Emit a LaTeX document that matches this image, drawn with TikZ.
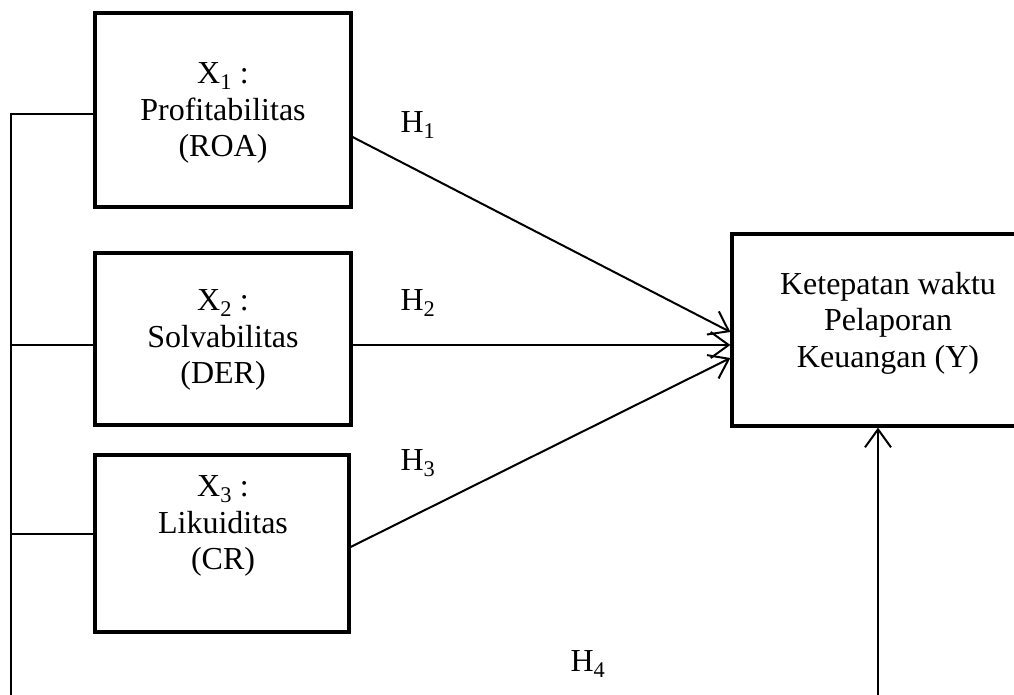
\documentclass[tikz,border=0pt]{standalone}
\usepackage{fontspec}
\setmainfont{Liberation Serif}
\usetikzlibrary{arrows.meta}
\begin{document}
\begin{tikzpicture}[x=1pt,y=-1pt,
  box/.style={draw, line width=3.2pt, inner sep=0pt},
  txt/.style={align=center, inner sep=0pt, font=\fontsize{32}{36.5}\selectfont},
  conn/.style={line width=2pt},
  arr/.style={line width=2pt, -{Straight Barb[length=18pt,width=26pt,line width=2pt]}}]
\useasboundingbox (0,0) rectangle (1014,694);
\clip (0,0) rectangle (1014,694);
% boxes
\node[box, minimum width=256pt, minimum height=194pt] (b1) at (223,110) {};
\node[box, minimum width=256pt, minimum height=172pt] (b2) at (223,339) {};
\node[box, minimum width=254pt, minimum height=177pt] (b3) at (222,543.5) {};
\node[box, minimum width=312pt, minimum height=192pt] (y) at (888,330) {};
% texts
\node[txt] (t1) at (223,113) {X\textsubscript{1} :\\Profitabilitas\\(ROA)};
\node[txt] (t2) at (223,340) {X\textsubscript{2} :\\Solvabilitas\\(DER)};
\node[txt] (t3) at (223,526) {X\textsubscript{3} :\\Likuiditas\\(CR)};
\node[txt] (ty) at (888,323) {Ketepatan waktu\\Pelaporan\\Keuangan (Y)};
% hypothesis labels
\node[txt] (h1) at (418,125) {H\textsubscript{1}};
\node[txt] (h2) at (418,303) {H\textsubscript{2}};
\node[txt] (h3) at (418,463) {H\textsubscript{3}};
\node[txt] (h4) at (588,664) {H\textsubscript{4}};
% arrows to Y
\draw[arr] ([yshift=-27pt]b1.east) -- ([yshift=-2pt]y.west);
\draw[arr] ([yshift=-6pt]b2.east) -- ([yshift=-15pt]y.west);
\draw[arr] ([yshift=-3.5pt]b3.east) -- ([yshift=-28pt]y.west);
% left bracket line
\coordinate (lb) at (11,700);
\draw[conn] (lb) |- ([yshift=-4pt]b1.west);
\draw[conn] (lb |- 0,345) -- ([yshift=-6pt]b2.west);
\draw[conn] (lb |- 0,534) -- ([yshift=9.5pt]b3.west);
% bottom arrow to Y
\coordinate (rb) at (878,700);
\draw[arr] (rb) -- (rb |- y.south);
\end{tikzpicture}
\end{document}
